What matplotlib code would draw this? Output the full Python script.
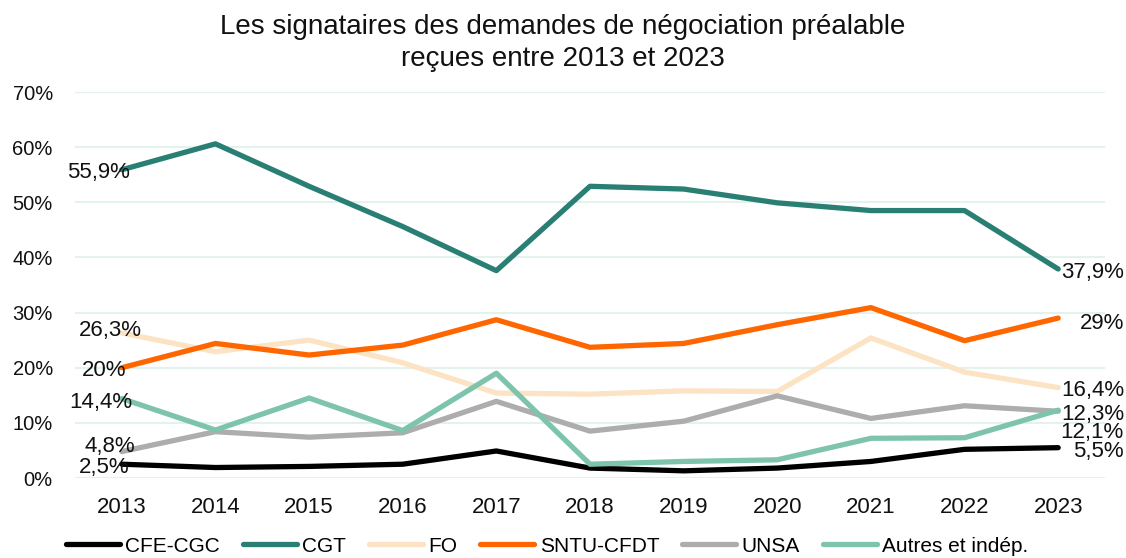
import matplotlib
matplotlib.use("Agg")
import matplotlib.pyplot as plt
from matplotlib.ticker import FuncFormatter
from matplotlib.transforms import blended_transform_factory

plt.rcParams['font.family'] = ['Liberation Sans', 'DejaVu Sans']

years = ["2013", "2014", "2015", "2016", "2017", "2018", "2019", "2020", "2021", "2022", "2023"]
cfe_cgc = [2.5, 1.9, 2.1, 2.5, 4.9, 1.8, 1.3, 1.8, 3.0, 5.2, 5.5]
cgt = [55.9, 60.6, 52.9, 45.6, 37.6, 52.9, 52.4, 49.9, 48.5, 48.5, 37.9]
fo = [26.3, 22.9, 25.0, 20.9, 15.4, 15.2, 15.8, 15.7, 25.4, 19.2, 16.4]
sntu_cfdt = [20.0, 24.4, 22.3, 24.1, 28.7, 23.7, 24.4, 27.8, 30.9, 24.9, 29.0]
unsa = [4.8, 8.4, 7.4, 8.2, 13.9, 8.5, 10.3, 14.9, 10.8, 13.1, 12.1]
autres = [14.4, 8.7, 14.5, 8.6, 19.0, 2.5, 3.0, 3.3, 7.2, 7.3, 12.3]

series_names = ["CFE-CGC", "CGT", "FO", "SNTU-CFDT", "UNSA", "Autres et indép."]
series_values = [cfe_cgc, cgt, fo, sntu_cfdt, unsa, autres]
colors = ["#000000", "#2A7F74", "#FBE3C3", "#FF6600", "#ADADAD", "#7EC4AD"]
start_labels = ["2,5%", "55,9%", "26,3%", "20%", "4,8%", "14,4%"]
end_labels = ["5,5%", "37,9%", "16,4%", "29%", "12,1%", "12,3%"]

# label placement offsets in pixels (style only)
start_dx = [8, 8, 20, 5, 13, 11]      # right edge relative to first point
start_dy = [-1, 0, 5, 0, 8, -1]       # vertical shift (up positive)
end_dy = [-1, -1, 0, -3, -19, -2]     # vertical shift for end labels

fig = plt.figure(figsize=(11.26, 5.58), dpi=100)
ax = fig.add_axes([75 / 1126, 80 / 558, 1030 / 1126, 386 / 558])

x = list(range(len(years)))
draw_order = [2, 4, 5, 3, 1, 0]
for i in draw_order:
    ax.plot(x, series_values[i], color=colors[i], lw=3.8, solid_capstyle='round',
            solid_joinstyle='round', label=series_names[i], zorder=3 + i * 0.1)

px = 0.72  # points per pixel at 100 dpi
right_tr = blended_transform_factory(fig.transFigure, ax.transData)
for i in range(len(series_values)):
    v = series_values[i]
    ax.annotate(start_labels[i], xy=(x[0], v[0]), xytext=(start_dx[i] * px, start_dy[i] * px),
                textcoords='offset points', ha='right', va='center_baseline',
                fontsize=16, color='#111111', zorder=6)
    ax.annotate(end_labels[i], xy=(1124 / 1126, v[-1]), xycoords=right_tr,
                xytext=(0, end_dy[i] * px), textcoords='offset points',
                ha='right', va='center_baseline', fontsize=16, color='#111111',
                zorder=6, annotation_clip=False)

ax.set_xlim(-0.5, 10.5)
ax.set_ylim(0, 70)
ax.set_yticks(range(0, 71, 10))
ax.yaxis.set_major_formatter(FuncFormatter(lambda v, p: f"{int(v)}%"))
ax.set_xticks(x)
ax.set_xticklabels(years)
ax.tick_params(axis='both', length=0, colors='#111111')
ax.tick_params(axis='y', pad=16, labelsize=14.5)
ax.tick_params(axis='x', pad=14, labelsize=16)
ax.grid(axis='y', color='#E4F2EE', lw=1.5, zorder=0)
for s in ax.spines.values():
    s.set_visible(False)

handles, labels = ax.get_legend_handles_labels()
order = [labels.index(n) for n in series_names]
leg = fig.legend([handles[k] for k in order], [labels[k] for k in order],
                 loc='center', bbox_to_anchor=(547 / 1126, 1 - 546 / 558), ncol=6,
                 frameon=False, fontsize=15, handlelength=2.6, handletextpad=0.25,
                 columnspacing=1.1, borderpad=0.0, borderaxespad=0.0)

fig.text(0.5, 1 - 43 / 558, "Les signataires des demandes de négociation préalable\nreçues entre 2013 et 2023",
         ha='center', va='center', fontsize=20, color='#111111', linespacing=1.25)

fig.savefig("out.png", dpi=100)
